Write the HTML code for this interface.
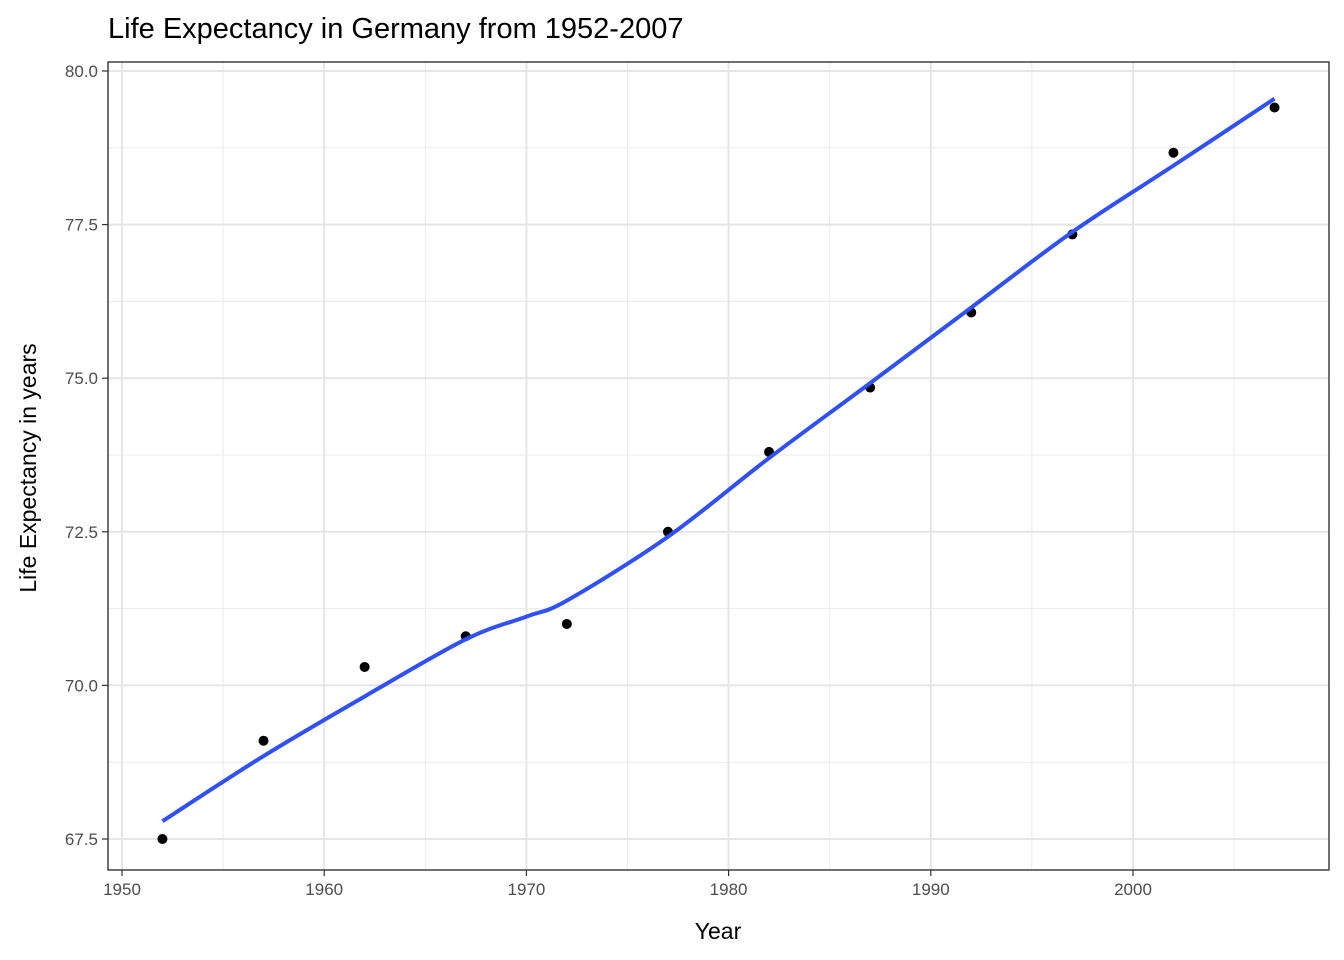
<!DOCTYPE html>
<html><head><meta charset="utf-8"><style>
body{margin:0;background:#fff;}
svg{display:block;font-family:"Liberation Sans",Arial,sans-serif;}
</style></head><body>
<svg id="chart" width="1344" height="960">
<text x="108" y="38" font-size="29" fill="#000">Life Expectancy in Germany from 1952-2007</text>
<g id="grid"></g><g id="marks"></g><g id="axes"></g>
<text x="718" y="939" font-size="23" text-anchor="middle" fill="#000">Year</text>
<text transform="translate(36,468) rotate(-90)" font-size="23" text-anchor="middle" fill="#000">Life Expectancy in years</text>
</svg>
<script>
const years=[1952,1957,1962,1967,1972,1977,1982,1987,1992,1997,2002,2007];
const lifeExp=[67.5,69.1,70.3,70.8,71.0,72.5,73.8,74.847,76.07,77.34,78.67,79.406];
const smoothYears=[1952,1957,1962,1967,1970,1972,1977,1982,1987,1992,1997,2002,2007];
const smoothVals=[67.79,68.85,69.82,70.75,71.12,71.38,72.42,73.7,74.92,76.15,77.38,78.46,79.55];
const xTicks=[1950,1960,1970,1980,1990,2000];
const yTicks=[67.5,70.0,72.5,75.0,77.5,80.0];
const L=108,R=1329,T=62,B=870;
const x=v=>122+(v-1950)*20.22;
const y=v=>839-(v-67.5)*61.44;
const NS="http://www.w3.org/2000/svg";
function mk(tag,attrs,parent){const e=document.createElementNS(NS,tag);for(const k in attrs)e.setAttribute(k,attrs[k]);parent.appendChild(e);return e;}
const grid=document.getElementById('grid'),marks=document.getElementById('marks'),axes=document.getElementById('axes');
mk('rect',{x:L,y:T,width:R-L,height:B-T,fill:'#fff'},grid);
for(let i=0;i<xTicks.length;i++){const v=xTicks[i]+5;const l=mk('line',{x1:x(v),x2:x(v),y1:T,y2:B,stroke:'#ebebeb','stroke-width':1},grid);

}
for(let i=0;i<yTicks.length-1;i++){const v=yTicks[i]+1.25;const l=mk('line',{x1:L,x2:R,y1:y(v),y2:y(v),stroke:'#ebebeb','stroke-width':1},grid);

}
xTicks.forEach(v=>{const l=mk('line',{x1:x(v),x2:x(v),y1:T,y2:B,stroke:'#e5e5e5','stroke-width':2},grid);


mk('line',{x1:x(v),x2:x(v),y1:B,y2:B+6,stroke:'#333','stroke-width':1.2},axes);
const tx=mk('text',{x:x(v),y:B+25,'font-size':17,fill:'#4d4d4d','text-anchor':'middle'},axes);tx.textContent=v;

});
yTicks.forEach(v=>{const l=mk('line',{x1:L,x2:R,y1:y(v),y2:y(v),stroke:'#e5e5e5','stroke-width':2},grid);


mk('line',{x1:L-6,x2:L,y1:y(v),y2:y(v),stroke:'#333','stroke-width':1.2},axes);
const tx=mk('text',{x:L-10,y:y(v)+6,'font-size':17,fill:'#4d4d4d','text-anchor':'end'},axes);tx.textContent=v.toFixed(1);

});
const b=mk('rect',{x:L,y:T,width:R-L,height:B-T,fill:'none',stroke:'#333','stroke-width':1.4},axes);


years.forEach((yr,i)=>{const c=mk('circle',{cx:x(yr),cy:y(lifeExp[i]),r:5,fill:'#000'},marks);

});
let d='';for(let i=0;i<smoothYears.length;i++){const px=x(smoothYears[i]),py=y(smoothVals[i]);
if(i===0){d+='M'+px+','+py;}else{const p0=smoothYears[Math.max(0,i-2)],v0=smoothVals[Math.max(0,i-2)];
const p1=smoothYears[i-1],v1=smoothVals[i-1],p3=smoothYears[Math.min(smoothYears.length-1,i+1)],v3=smoothVals[Math.min(smoothYears.length-1,i+1)];
const c1x=x(p1)+(x(smoothYears[i])-x(p0))/6,c1y=y(v1)+(y(smoothVals[i])-y(v0))/6;
const c2x=px-(x(p3)-x(p1))/6,c2y=py-(y(v3)-y(v1))/6;
d+=' C'+c1x+','+c1y+' '+c2x+','+c2y+' '+px+','+py;}}
const sl=mk('path',{d:d,fill:'none',stroke:'#3050f8','stroke-width':4},marks);


</script>
</body></html>
